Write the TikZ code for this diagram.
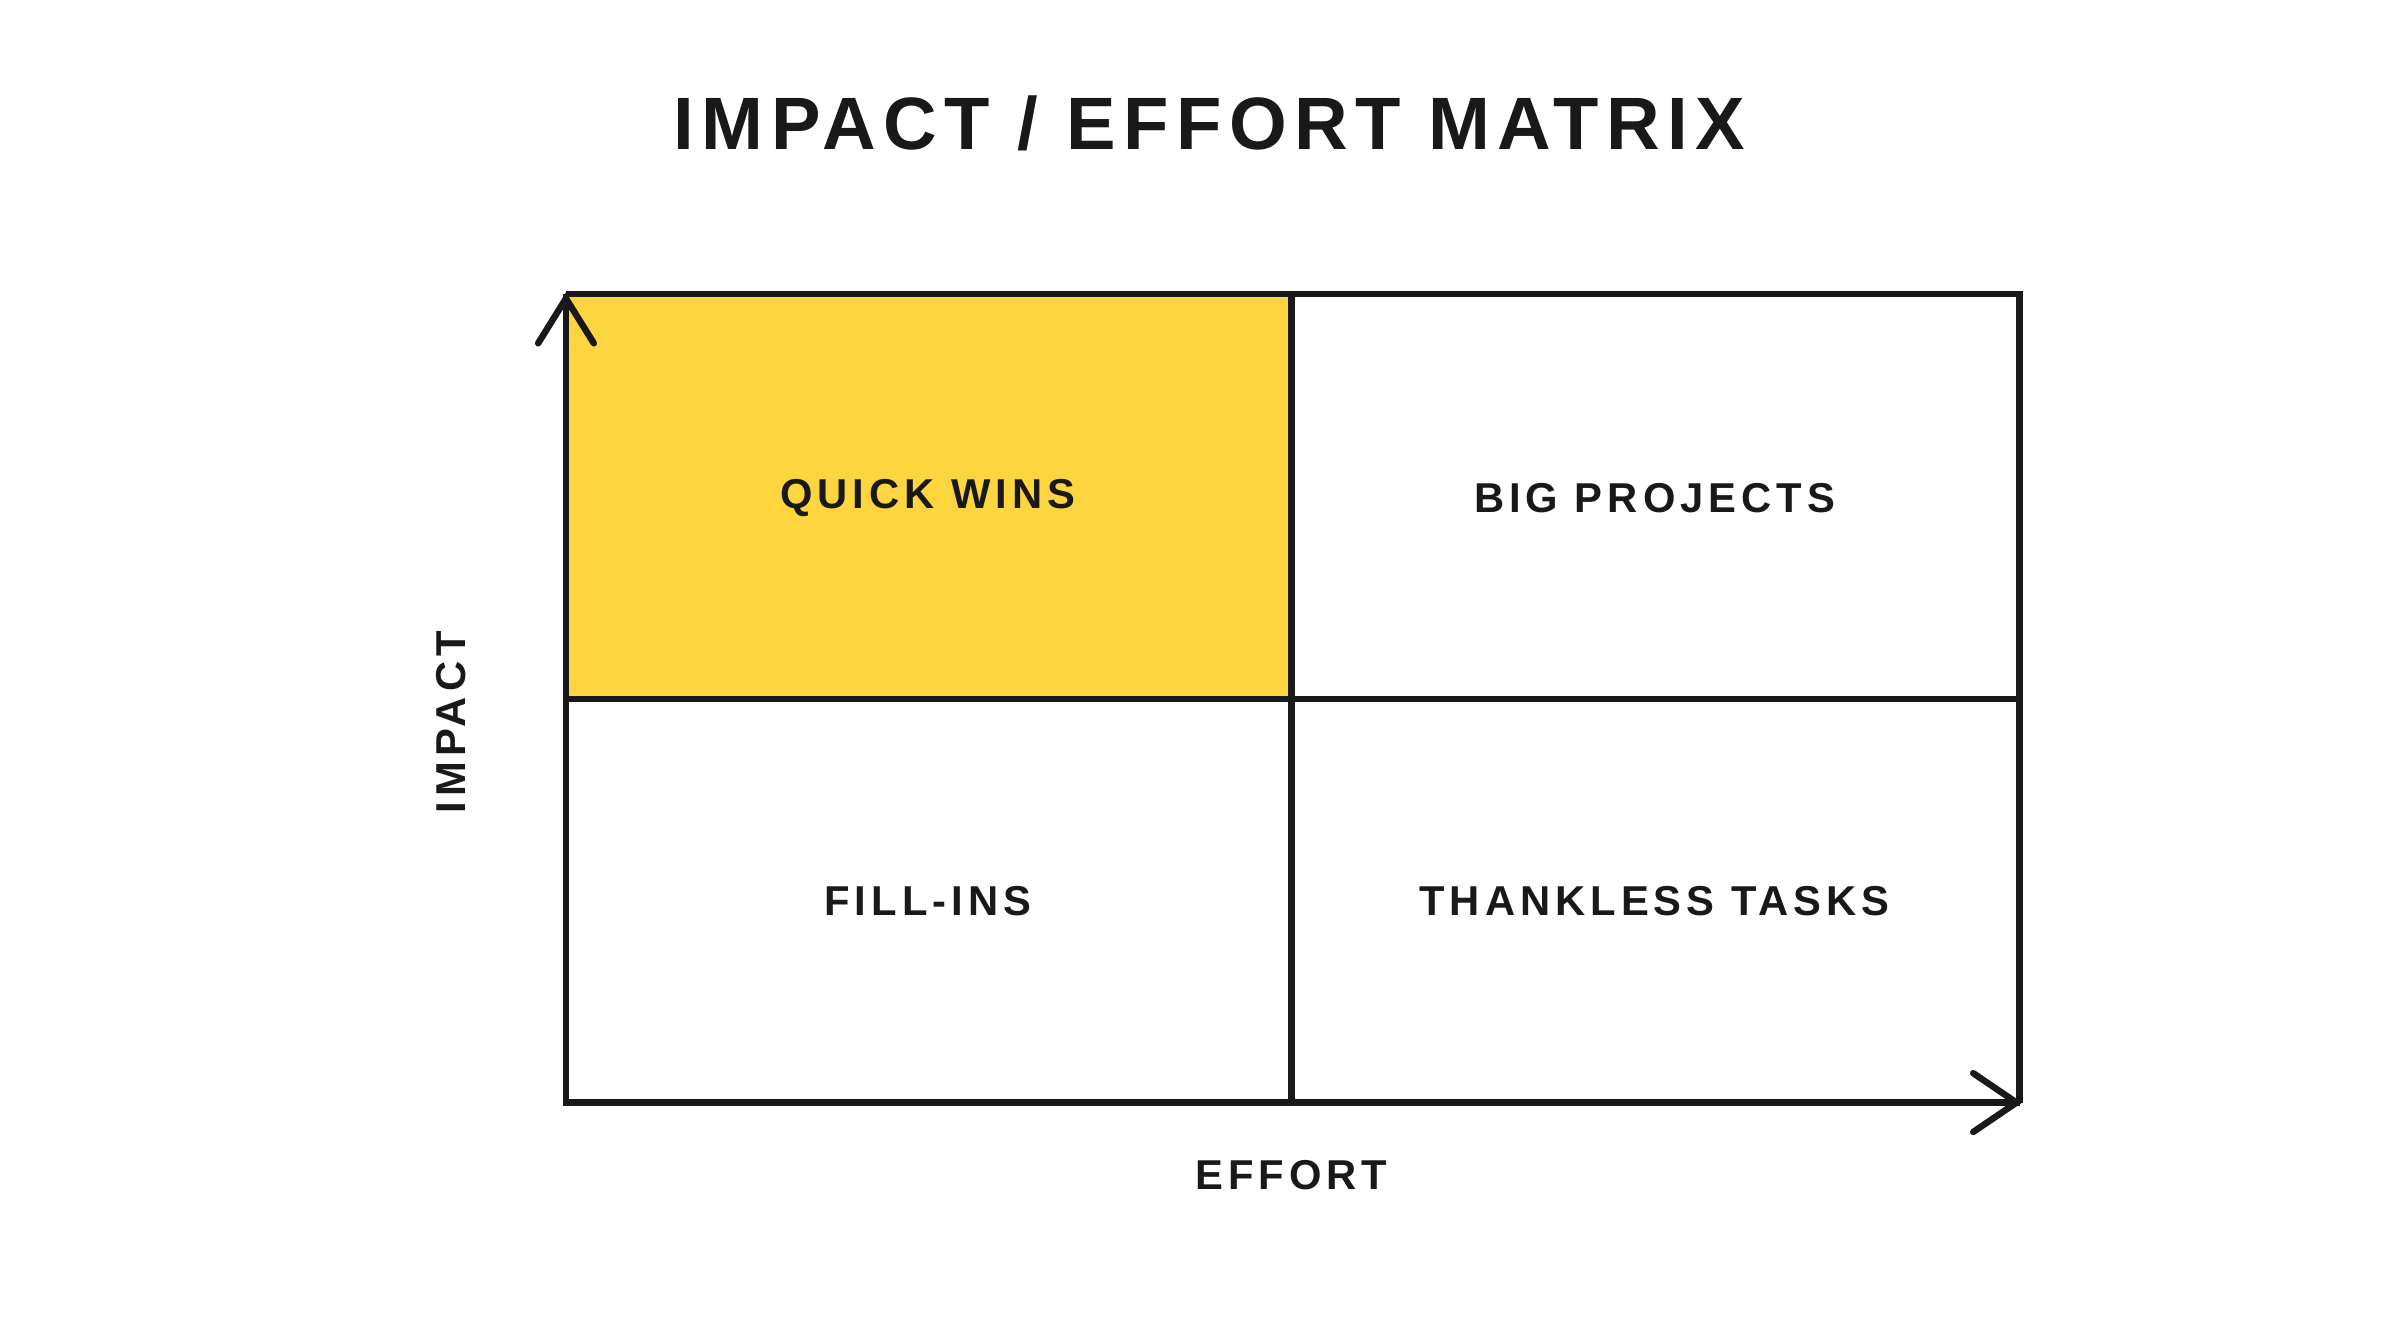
\documentclass[tikz,border=0pt]{standalone}
\usepackage{fontspec}
\setmainfont{Liberation Sans}
\begin{document}
\begin{tikzpicture}[x=0.5pt,y=-0.5pt,
  lab/.style={font=\fontsize{13.5}{16}\selectfont\bfseries\addfontfeature{LetterSpace=12}, text=black!90},
  ln/.style={line width=2.1pt, draw=black!90}]
\useasboundingbox (0,0) rectangle (1552,860);
\fill[yellow!80!orange!70!white, fill={rgb,255:red,253;green,213;blue,62}] (366,190) rectangle (835,452);
\draw[ln] (366,190) -- (1306,190) -- (1306,713);
\draw[ln] (835,190) -- (835,713);
\draw[ln] (366,452) -- (1306,452);
\draw[ln] (366,190) -- (366,713) -- (1306,713);
\draw[ln, line cap=round, line join=miter] (348,222) -- (366,193) -- (384,222);
\draw[ln, line cap=round, line join=miter] (1276,694) -- (1304,713) -- (1276,732);
\node (t) [font=\fontsize{24}{28}\selectfont\bfseries\addfontfeature{LetterSpace=10}, text=black!90] at (782,80) {IMPACT / EFFORT MATRIX};
\node (q) [lab] at (600,322) {QUICK WINS};
\node (b) [lab] at (1070,322) {BIG PROJECTS};
\node (f) [lab] at (600,583) {FILL-INS};
\node (th) [lab] at (1070,583) {THANKLESS TASKS};
\node (e) [lab] at (835,760) {EFFORT};
\node (i) [lab, rotate=90] at (292,467) {IMPACT};
\end{tikzpicture}
\end{document}
